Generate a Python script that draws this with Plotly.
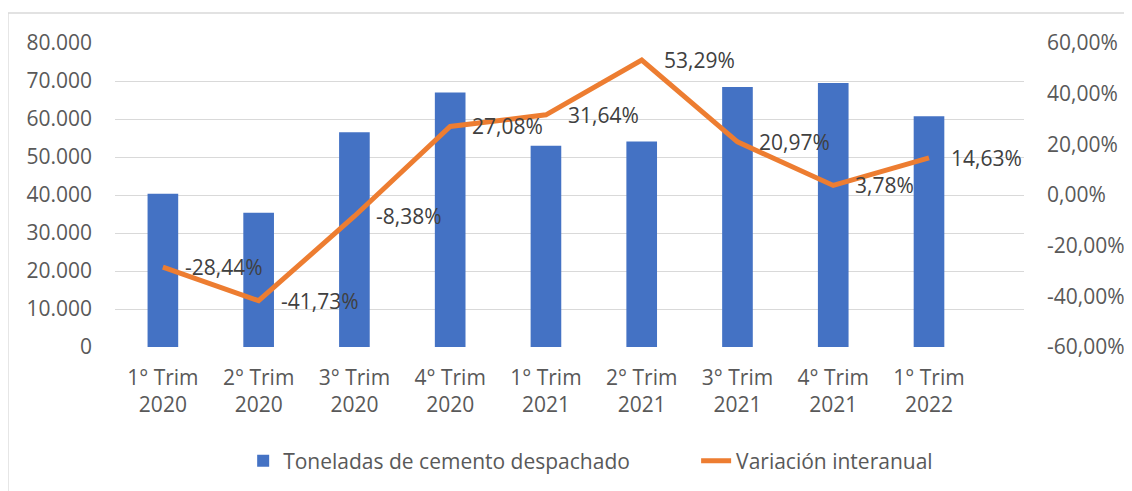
import plotly.graph_objects as go

categories = ["1° Trim<br>2020", "2° Trim<br>2020", "3° Trim<br>2020", "4° Trim<br>2020",
              "1° Trim<br>2021", "2° Trim<br>2021", "3° Trim<br>2021", "4° Trim<br>2021",
              "1° Trim<br>2022"]
toneladas = [40300, 35350, 56500, 67000, 52950, 54100, 68400, 69450, 60700]
variacion = [-28.44, -41.73, -8.38, 27.08, 31.64, 53.29, 20.97, 3.78, 14.63]
pct_ticks = [-60, -40, -20, 0, 20, 40, 60]
bar_name = "Toneladas de cemento despachado"
line_name = "Variación interanual"


def pct(v):
    return f"{v:.2f}%".replace(".", ",")


BLUE = "#4472C4"
ORANGE = "#ED7D31"
TICK = "#595959"
LABEL = "#404040"
GRID = "#D9D9D9"
FONT = "Open Sans"
NUM = 21

fig = go.Figure()
fig.add_trace(go.Bar(x=categories, y=toneladas, name=bar_name, marker_color=BLUE,
                     marker_line_width=0, yaxis="y", legend="legend"))
fig.add_trace(go.Scatter(x=categories, y=variacion, name=line_name, mode="lines",
                         line=dict(color=ORANGE, width=5), yaxis="y2", legend="legend2"))

for c, v in zip(categories, variacion):
    fig.add_annotation(x=c, y=v, yref="y2", xref="x", text=pct(v),
                       showarrow=False, xanchor="left", yanchor="middle", xshift=20,
                       font=dict(family=FONT, size=NUM, color=LABEL))

# outer chart border
fig.add_shape(type="rect", xref="paper", yref="paper",
              x0=-0.1177, x1=1.2, y0=-0.7, y1=1.0987,
              line=dict(color=GRID, width=1.3), fillcolor="rgba(0,0,0,0)", layer="below")

legend_common = dict(orientation="h", xanchor="left", y=-0.375, yanchor="middle",
                     font=dict(family=FONT, size=NUM, color=TICK),
                     bgcolor="rgba(0,0,0,0)")

# page body has an 8px margin, so the figure is drawn 8px in and 8px down
fig.update_layout(
    width=1124, height=483,
    margin=dict(l=107, r=108, t=35, b=144, autoexpand=False),
    paper_bgcolor="white", plot_bgcolor="white",
    separators=",.",
    bargap=0.68,
    font=dict(family=FONT, size=NUM, color=TICK),
    showlegend=True,
    legend=dict(x=0.141, **legend_common),
    legend2=dict(x=0.6393, **legend_common),
    xaxis=dict(showgrid=False, showline=False, ticks="", tickfont=dict(size=NUM, color=TICK),
               ticklabelstandoff=16, automargin=False),
    yaxis=dict(range=[0, 80000], dtick=10000, tickformat=",.0f", showgrid=True,
               gridcolor=GRID, gridwidth=1.3, zeroline=False, showline=False, ticks="",
               tickfont=dict(size=NUM, color=TICK), ticklabelstandoff=22, automargin=False),
    yaxis2=dict(range=[-60, 60], tickmode="array", tickvals=pct_ticks,
                ticktext=[pct(t) for t in pct_ticks],
                overlaying="y", side="right", showgrid=False, zeroline=False,
                showline=False, ticks="", tickfont=dict(size=NUM, color=TICK),
                ticklabelstandoff=22, automargin=False),
)

fig.write_html("out.html")
